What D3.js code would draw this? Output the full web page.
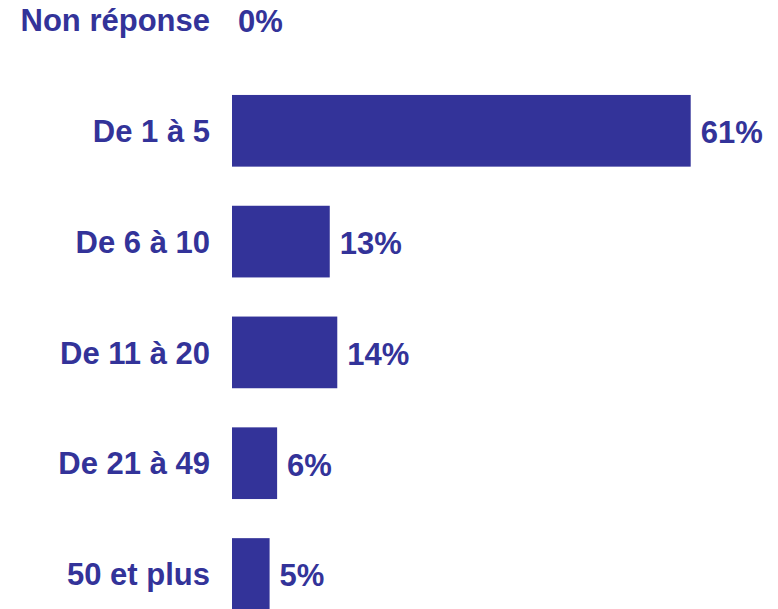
<!DOCTYPE html>
<html>
<head>
<meta charset="utf-8">
<script src="https://cdn.jsdelivr.net/npm/d3@7"></script>
<style>
  html, body { margin: 0; padding: 0; background: #fff; }
  svg text { font-family: Arial, "Liberation Sans", sans-serif; font-weight: bold; fill: #333399; }
</style>
</head>
<body>
<div id="chart"></div>
<script>
const categories = ['Non réponse', 'De 1 à 5', 'De 6 à 10', 'De 11 à 20', 'De 21 à 49', '50 et plus'];
const values = [0, 61, 13, 14, 6, 5];

const W = 778, H = 609;
const color = '#333399';
const fontSize = 31;

const svg = d3.select('#chart').append('svg')
  .attr('width', W).attr('height', H);

// bars start at x=232, 61% reaches ~691
const x = d3.scaleLinear().domain([0, 61]).range([232, 690.7]);

// one band per category, step ~110.8px, bar ~72px tall
const step = 110.8;
const y = d3.scaleBand()
  .domain(categories)
  .range([20 - step / 2, 20 - step / 2 + step * categories.length])
  .paddingInner(0.353)
  .paddingOuter(0.353 / 2);

const rows = categories.map((c, i) => ({ cat: c, val: values[i] }));

svg.selectAll('.bar').data(rows.filter(d => d.val > 0))
  .join('rect').attr('class', 'bar')
  .attr('x', x(0))
  .attr('y', d => y(d.cat))
  .attr('width', d => x(d.val) - x(0))
  .attr('height', y.bandwidth())
  .attr('fill', color);

// category labels, right aligned before the bars
const yAxis = d3.axisLeft(y).tickSize(0).tickPadding(0);
const gAxis = svg.append('g').attr('transform', 'translate(210,0)').call(yAxis);
gAxis.select('.domain').remove();
gAxis.selectAll('text')
  .attr('dy', '0.36em')
  .style('font-size', fontSize + 'px')
  .style('font-family', 'Arial, "Liberation Sans", sans-serif')
  .style('font-weight', 'bold')
  .attr('fill', color);

// value labels after the bar ends
svg.selectAll('.val').data(rows)
  .join('text').attr('class', 'val')
  .attr('x', d => x(d.val) + (d.val > 0 ? 10 : 6))
  .attr('y', d => y(d.cat) + y.bandwidth() / 2)
  .attr('dy', '0.4em')
  .style('font-size', fontSize + 'px')
  .text(d => d.val + '%');
</script>
</body>
</html>
